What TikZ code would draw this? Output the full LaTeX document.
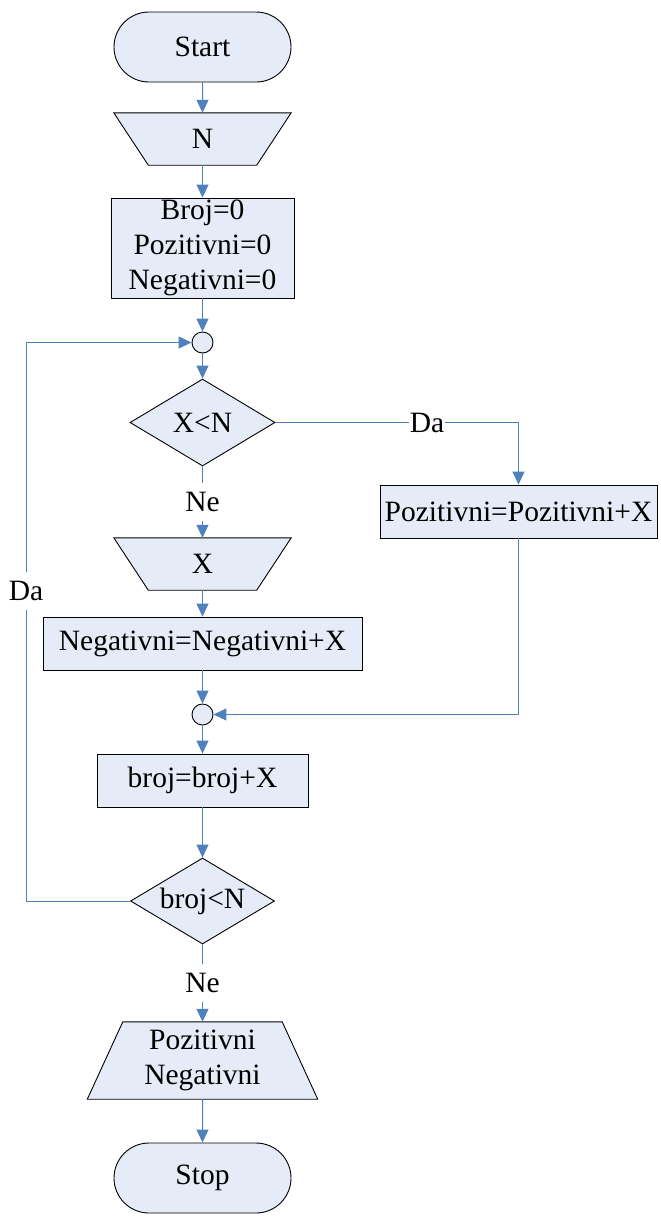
\documentclass[tikz,border=0pt]{standalone}
\usepackage{fontspec}
\setmainfont{Liberation Serif}
\usetikzlibrary{shapes.geometric,shapes.misc,arrows.meta,backgrounds}

\definecolor{boxfill}{HTML}{E6ECF7}
\definecolor{flowblue}{HTML}{4F81BD}

\tikzset{
  base/.style={font=\fontsize{29.5}{35}\selectfont, inner sep=0pt, align=center},
  shapeline/.style={draw=black, line width=0.9pt, fill=boxfill},
  terminal/.style={base, shapeline, rounded rectangle, minimum width=177, minimum height=70},
  procbox/.style={base, shapeline, rectangle},
  decision/.style={base, shapeline, diamond, aspect=1.67},
  joint/.style={shapeline, circle, minimum size=21, inner sep=0pt},
  iohold/.style={base, rectangle},
  ioshape/.style={shapeline, line join=miter},
  lbl/.style={base, inner xsep=1pt, inner ysep=9pt},
  flow/.style={draw=flowblue, line width=1pt},
  arr/.style={flow, -{Triangle[length=13pt,width=12pt]}},
}

\begin{document}
\begin{tikzpicture}[x=1pt,y=-1pt]
\useasboundingbox (0,0) rectangle (661,1216);

% main column
\node[terminal] (start) at (202.5,47) {Start};
\node[iohold, minimum width=177, minimum height=52] (inN) at (202.5,139) {N};
\node[procbox, minimum width=183, minimum height=100] (init) at (202.5,248)
  {Broj=0\\Pozitivni=0\\Negativni=0};
\node[joint] (c1) at (202.5,342.5) {};
\node[decision, minimum width=145, minimum height=87] (d1) at (202.5,422.5) {X<N};
\node[lbl] (ne1) at (202.5,502) {Ne};
\node[iohold, minimum width=177, minimum height=52] (inX) at (202.5,564) {X};
\node[procbox, minimum width=319, minimum height=53] (neg) at (202.5,643.5) {Negativni=Negativni+X};
\node[joint] (c2) at (202.5,714.5) {};
\node[procbox, minimum width=211, minimum height=53] (cnt) at (202.5,780.5) {broj=broj+X};
\node[decision, minimum width=144, minimum height=86] (d2) at (202.5,901) {broj<N};
\node[lbl] (ne2) at (202.5,982.5) {Ne};
\node[iohold, minimum width=230, minimum height=77] (out) at (202.5,1060.5) {Pozitivni\\Negativni};
\node[terminal] (stop) at (202.5,1178) {Stop};

% right branch
\node[lbl] (da1) at (427,422.5) {Da};
\node[procbox, minimum width=277, minimum height=53] (pos) at (518.5,511.5) {Pozitivni=Pozitivni+X};

% loop-back label
\node[lbl] (da2) at (26,590.5) {Da};

% input / output trapezia behind their texts
\begin{scope}[on background layer]
  \path[ioshape] (inN.north west) -- (inN.north east)
    -- ([xshift=-34.5]inN.south east) -- ([xshift=34.5]inN.south west) -- cycle;
  \path[ioshape] (inX.north west) -- (inX.north east)
    -- ([xshift=-34.5]inX.south east) -- ([xshift=34.5]inX.south west) -- cycle;
  \path[ioshape] ([xshift=35.5]out.north west) -- ([xshift=-35.5]out.north east)
    -- (out.south east) -- (out.south west) -- cycle;
\end{scope}

% connectors
\draw[arr] (start) -- (inN);
\draw[arr] (inN) -- (init);
\draw[arr] (init) -- (c1);
\draw[arr] (c1) -- (d1);
\draw[flow] (d1.south) -- (ne1.north);
\draw[arr] (ne1.south) -- (inX.north);
\draw[arr] (inX) -- (neg);
\draw[arr] (neg) -- (c2);
\draw[arr] (c2) -- (cnt);
\draw[arr] (cnt) -- (d2);
\draw[flow] (d2.south) -- (ne2.north);
\draw[arr] (ne2.south) -- (out.north);
\draw[arr] (out) -- (stop);

\draw[flow] (d1.east) -- (da1.west);
\draw[arr] (da1.east) -| (pos.north);
\draw[arr] (pos.south) |- (c2.east);

\draw[flow] (d2.west) -| (da2.south);
\draw[arr] (da2.north) |- (c1.west);
\end{tikzpicture}
\end{document}
